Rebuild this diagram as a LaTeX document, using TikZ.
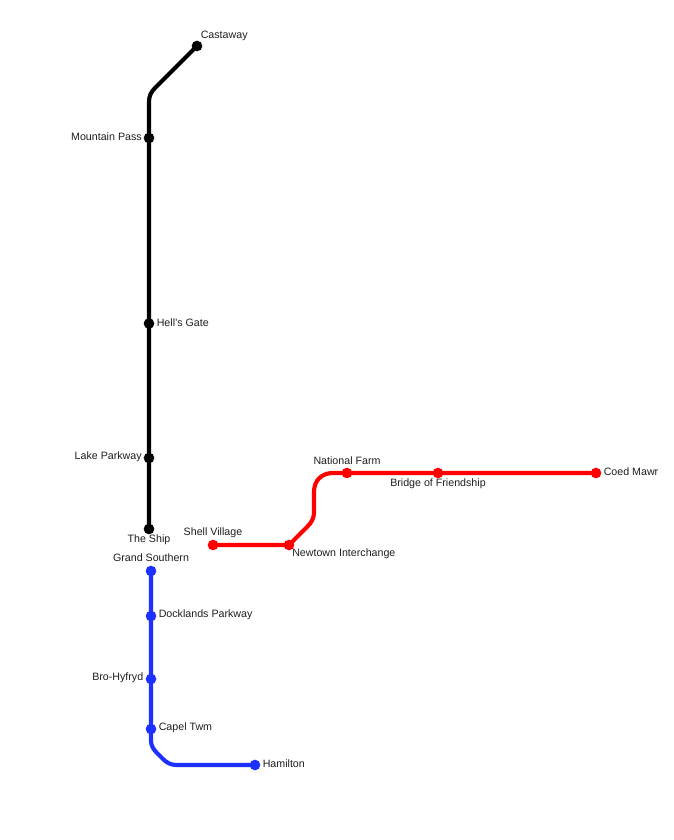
\documentclass[tikz,border=0pt]{standalone}
\usepackage{fontspec}
\setmainfont{Liberation Sans}
\definecolor{lineblue}{RGB}{28,48,255}
\definecolor{textgrey}{RGB}{30,30,30}
\tikzset{
  x=0.75pt,y=-0.75pt,
  stn/.style={circle,fill=#1,draw=none,minimum size=8pt,inner sep=0pt},
  route/.style={draw=#1,line width=3.1pt,line cap=round,line join=round},
  lbl/.style={text=textgrey,font=\fontsize{8pt}{10pt}\selectfont,inner sep=0pt},
}
\begin{document}
\begin{tikzpicture}
\useasboundingbox (0,0) rectangle (674,840);
% black line
\coordinate (bk1) at (149,102);
\node[stn=black] (castaway) at (197,46) {};
\node[stn=black] (mountain) at (149,138) {};
\node[stn=black] (hells) at (149,323.5) {};
\node[stn=black] (lake) at (149,458) {};
\node[stn=black] (ship) at (149,529) {};
\draw[route=black] (castaway.center) -- (155,88) .. controls (151,92) and (149,96) .. (bk1) -- (mountain.center) -- (hells.center) -- (lake.center) -- (ship.center);
% red line
\node[stn=red] (shell) at (213,545) {};
\node[stn=red] (newtown) at (289,545) {};
\node[stn=red] (farm) at (347,473) {};
\node[stn=red] (bridge) at (438,473) {};
\node[stn=red] (coed) at (596,473) {};
\draw[route=red] (shell.center) -- (newtown.center) -- (307,527) .. controls (312,522) and (314,518) .. (314,512) -- (314,492) .. controls (314,480) and (322,473) .. (333,473) -- (farm.center) -- (bridge.center) -- (coed.center);
% blue line
\node[stn=lineblue] (grand) at (151,571) {};
\node[stn=lineblue] (dock) at (151,616) {};
\node[stn=lineblue] (bro) at (151,679) {};
\node[stn=lineblue] (capel) at (151,729) {};
\node[stn=lineblue] (hamilton) at (255,765) {};
\draw[route=lineblue] (grand.center) -- (dock.center) -- (bro.center) -- (capel.center) -- (151,741) .. controls (151,746) and (154,750) .. (157,753) -- (163,759) .. controls (167,763) and (171,765) .. (177,765) -- (hamilton.center);
% labels
\node[lbl,anchor=west] (lcastaway) at (200.5,35.5) {Castaway};
\node[lbl,anchor=east] (lmountain) at (142,136.5) {Mountain Pass};
\node[lbl,anchor=west] (lhells) at (156.5,322.5) {Hell's Gate};
\node[lbl,anchor=east] (llake) at (142,456.5) {Lake Parkway};
\node[lbl] (lship) at (149,540) {The Ship};
\node[lbl] (lgrand) at (151,558) {Grand Southern};
\node[lbl,anchor=west] (ldock) at (158.5,614.5) {Docklands Parkway};
\node[lbl,anchor=east] (lbro) at (143.5,677.5) {Bro-Hyfryd};
\node[lbl,anchor=west] (lcapel) at (158.5,727.5) {Capel Twm};
\node[lbl,anchor=west] (lhamilton) at (262.5,763.5) {Hamilton};
\node[lbl] (lshell) at (213,533) {Shell Village};
\node[lbl,anchor=west] (lnewtown) at (292,553.5) {Newtown Interchange};
\node[lbl] (lfarm) at (347,460.5) {National Farm};
\node[lbl] (lbridge) at (438,483.5) {Bridge of Friendship};
\node[lbl,anchor=west] (lcoed) at (603.5,471.5) {Coed Mawr};
\end{tikzpicture}
\end{document}
